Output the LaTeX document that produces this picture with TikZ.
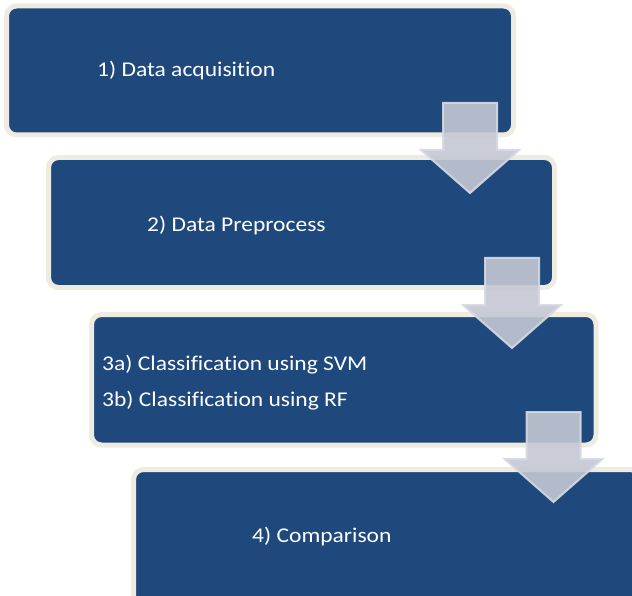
\documentclass[tikz,border=0pt]{standalone}
\usepackage{fontspec}
\setmainfont{Carlito}[Ligatures={NoCommon}, FakeStretch=1.12]
\definecolor{boxblue}{HTML}{1F497D}
\definecolor{boxedge}{HTML}{EEECE1}
\definecolor{arrowfill}{HTML}{C4C8D3}
\definecolor{arrowedge}{HTML}{D6D9E1}
\tikzset{
  stepbox/.style={draw=boxedge, line width=5pt, fill=boxblue, rounded corners=10pt},
  steptext/.style={text=white, font=\fontsize{21pt}{25pt}\selectfont, anchor=base west, inner sep=0pt},
  downarrow/.style={fill=arrowfill, fill opacity=0.9, draw=arrowedge, line width=2pt, draw opacity=0.9}
}
\begin{document}
\begin{tikzpicture}[x=1pt,y=-1pt]
\useasboundingbox (0,0) rectangle (632,596);
\clip (0,0) rectangle (632,596);
% boxes
\path[stepbox] (6.5,6) rectangle (513.5,135);
\path[stepbox] (48.5,157.5) rectangle (554.5,287.5);
\path[stepbox] (91.5,314.5) rectangle (596,445);
\path[stepbox] (133.5,469.5) rectangle (640,610);
% texts
\node[steptext] (t1) at (97,77) {1) Data acquisition};
\node[steptext] (t2) at (147,232) {2) Data Preprocess};
\node[steptext] (t3a) at (102,370) {3a) Classification using SVM};
\node[steptext] (t3b) at (102,406) {3b) Classification using RF};
\node[steptext] (t4) at (252,542) {4) Comparison};
% arrows
\foreach \cx/\ty in {470/103, 512/258, 553.5/412}{
  \path[downarrow] (\cx-27,\ty) -- (\cx+27,\ty) -- (\cx+27,\ty+47) -- (\cx+49,\ty+47)
    -- (\cx,\ty+90) -- (\cx-49,\ty+47) -- (\cx-27,\ty+47) -- cycle;
}
\end{tikzpicture}
\end{document}
